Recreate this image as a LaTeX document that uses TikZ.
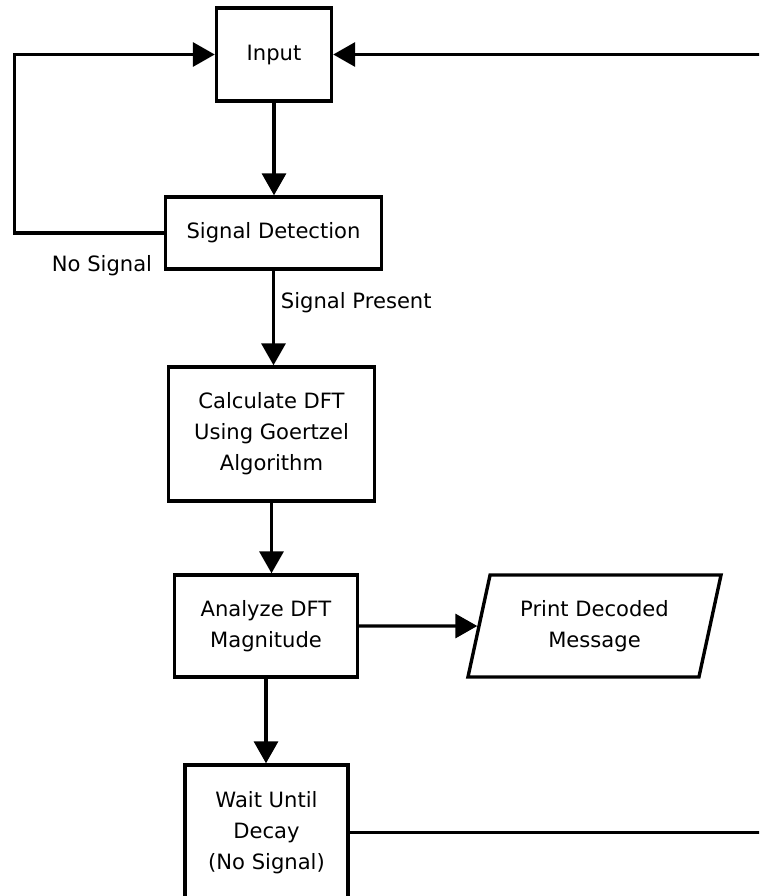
\documentclass[tikz,border=0pt]{standalone}
\usepackage{fontspec}
\setmainfont{DejaVu Sans}
\usetikzlibrary{arrows.meta,shapes.geometric}
\begin{document}
\begin{tikzpicture}[x=0.025cm, y=-0.025cm, font=\fontsize{15}{22}\selectfont, line join=miter, >={Triangle[length=0.55cm,width=0.6cm]},
    block/.style={draw, line width=2.4pt, align=center, inner sep=2pt},
    io/.style={draw, line width=2.4pt, align=center, trapezium, trapezium left angle=70, trapezium right angle=110, trapezium stretches body},
    flow/.style={line width=2.4pt}]
    \useasboundingbox (0,0) rectangle (759,896);
    \clip (0,0) rectangle (759,896);
    \node[block, minimum width=2.875cm, minimum height=2.325cm] (input) at (274,54.5) {Input};
    \node[block, minimum width=5.4cm, minimum height=1.8cm] (detect) at (273.5,233) {Signal Detection};
    \node[block, minimum width=5.15cm, minimum height=3.35cm] (dft) at (271.5,434) {Calculate DFT\\Using Goertzel\\Algorithm};
    \node[block, minimum width=4.575cm, minimum height=2.55cm] (analyze) at (266,626) {Analyze DFT\\Magnitude};
    \node[io, minimum width=6.325cm, minimum height=2.55cm] (print) at (594.5,626) {Print Decoded\\Message};
    \node[block, minimum width=4.075cm, minimum height=3.375cm] (wait) at (266.5,832.5) {Wait Until\\Decay\\(No Signal)};
    \node (nosig) at (102,266) {No Signal};
    \node[anchor=west] (sigpres) at (276,303) {Signal Present};
    \coordinate (loopL) at (14.5,233);
    \coordinate (loopR) at (790,832.5);
    % main flow
    \draw[flow,->] (input.south) -- (input.south |- detect.north);
    \draw[flow,->] (detect.south) -- (detect.south |- dft.north);
    \draw[flow,->] (dft.south) -- (dft.south |- analyze.north);
    \draw[flow,->] (analyze.south) -- (analyze.south |- wait.north);
    \draw[flow,->] (analyze.east) -- (print);
    % loops back to input
    \draw[flow,->] (detect.west) -- (loopL) |- (input.west);
    \draw[flow,->] (wait.east) -- (loopR) |- (input.east);
\end{tikzpicture}
\end{document}
